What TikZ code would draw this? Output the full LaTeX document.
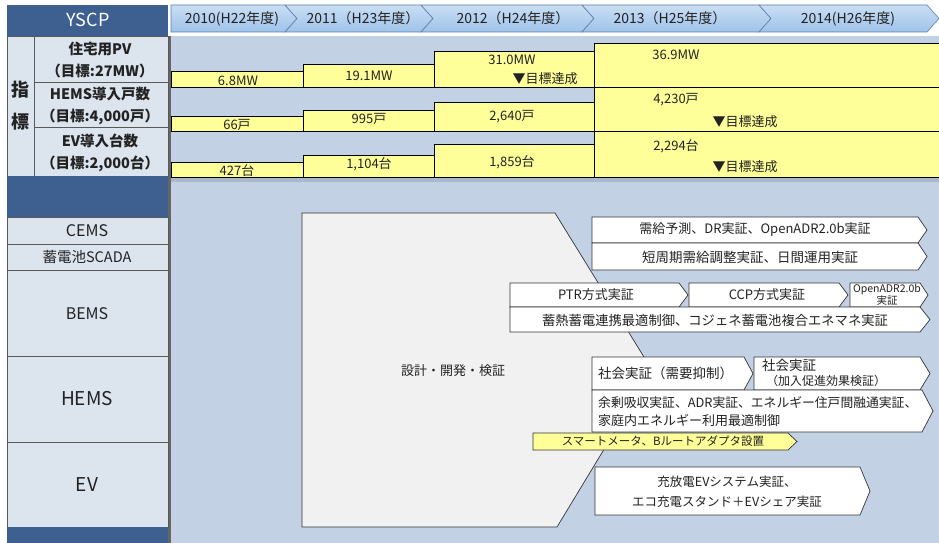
\documentclass[tikz,border=0pt]{standalone}
\usepackage{fontspec}
\setmainfont{Noto Sans CJK JP}
\definecolor{dkblue}{HTML}{3D6090}
\definecolor{cellbg}{HTML}{DCE4EE}
\definecolor{chartbg}{HTML}{C3D1E5}
\definecolor{bary}{HTML}{FFFF99}
\definecolor{hdr}{HTML}{9EC3EA}
\definecolor{hdrline}{HTML}{5F7FA8}
\definecolor{shapebg}{HTML}{F1F1F1}
\definecolor{txt}{HTML}{222222}
\newcommand\abx[6]{% x1, y1, body end, tip, y2, style
  \draw[#6] (#1,#2) -- (#3,#2) -- (#4,{(#2+#5)/2}) -- (#3,#5) -- (#1,#5) -- cycle;}
\begin{document}
\begin{tikzpicture}[x=1pt,y=-1pt,
  cell/.style={draw=black!65, fill=cellbg, line width=0.7pt},
  bar/.style={draw=black, fill=bary, line width=0.8pt},
  abox/.style={draw=black!80, fill=white, line width=0.7pt},
  ybox/.style={draw=black!80, fill=bary, line width=0.7pt},
  hdrbox/.style={draw=hdrline, line width=0.6pt, top color=hdr!55!white, bottom color=hdr},
  lbl/.style={inner sep=0pt, font=\fontsize{13}{15}\selectfont, text=txt},
  blbl/.style={inner sep=0pt, font=\fontsize{13}{15}\selectfont, text=txt},
  slbl/.style={inner sep=0pt, font=\fontsize{11.5}{13.5}\selectfont, text=txt},
  hlbl/.style={inner sep=0pt, font=\fontsize{14}{16}\selectfont, text=txt},
  plbl/.style={inner sep=0pt, font=\bfseries\fontsize{14.5}{16}\selectfont, text=txt},
  rlbl/.style={inner sep=0pt, font=\fontsize{16}{18}\selectfont, text=txt},
]
\useasboundingbox (0,0) rectangle (939,543);
\fill[white] (0,0) rectangle (939,543);
\fill[chartbg] (170,36) rectangle (939,543);
\fill[chartbg!88!black] (171,177) rectangle (939,182);

% header
\fill[dkblue] (7,5) rectangle (168,36);
\node[text=white, inner sep=0pt, font=\fontsize{18}{20}\selectfont] (yscp) at (88,20) {YSCP};
\draw[hdrbox] (171,5) -- (285,5) -- (297,18.5) -- (285,32) -- (171,32) -- cycle;
\draw[hdrbox] (285,5) -- (421,5) -- (433,18.5) -- (421,32) -- (285,32) -- (297,18.5) -- cycle;
\draw[hdrbox] (421,5) -- (582,5) -- (594,18.5) -- (582,32) -- (421,32) -- (433,18.5) -- cycle;
\draw[hdrbox] (582,5) -- (759,5) -- (771,18.5) -- (759,32) -- (582,32) -- (594,18.5) -- cycle;
\draw[hdrbox] (759,5) -- (927,5) -- (939,18.5) -- (927,32) -- (759,32) -- (771,18.5) -- cycle;
\node[hlbl] (y10) at (232,18.5) {2010(H22年度)};
\node[hlbl] (y11) at (363,18.5) {2011（H23年度）};
\node[hlbl] (y12) at (513,18.5) {2012（H24年度）};
\node[hlbl] (y13) at (670,18.5) {2013（H25年度）};
\node[hlbl] (y14) at (848,18.5) {2014(H26年度)};

% left panel (indicators)
\fill[black!60] (167,36) rectangle (171,543);
\draw[cell] (7,36) rectangle (34,176);
\node[plbl, font=\bfseries\fontsize{18}{20}\selectfont] (shi) at (20.5,90) {指};
\node[plbl, font=\bfseries\fontsize{18}{20}\selectfont] (hyo) at (20.5,122) {標};
\draw[cell] (34,36) rectangle (168,82);
\draw[cell] (34,82) rectangle (168,127);
\draw[cell] (34,127) rectangle (168,176);
\node[plbl] (pv1) at (100,49) {住宅用PV};
\node[plbl] (pv2) at (100,71) {（目標:27MW）};
\node[plbl] (hm1) at (100,94) {HEMS導入戸数};
\node[plbl] (hm2) at (100,117) {（目標:4,000戸）};
\node[plbl] (ev1) at (100,141) {EV導入台数};
\node[plbl] (ev2) at (100,164) {（目標:2,000台）};

% left panel (systems)
\fill[dkblue] (7,176) rectangle (168,217);
\draw[cell] (7,217) rectangle (168,244);
\draw[cell] (7,244) rectangle (168,270);
\draw[cell] (7,270) rectangle (168,356);
\draw[cell] (7,356) rectangle (168,442);
\draw[cell] (7,442) rectangle (168,527);
\fill[dkblue] (7,527) rectangle (168,543);
\node[rlbl] (cems) at (87,231) {CEMS};
\node[rlbl, font=\fontsize{14.5}{16}\selectfont] (scada) at (87,257) {蓄電池SCADA};
\node[rlbl] (bems) at (87,314) {BEMS};
\node[rlbl, font=\fontsize{19}{21}\selectfont] (hems) at (87,399) {HEMS};
\node[rlbl, font=\fontsize{19}{21}\selectfont] (ev) at (87,485) {EV};

% bars: PV
\draw[bar] (171,71) rectangle (303,87);
\draw[bar] (303,64) rectangle (434,87);
\draw[bar] (434,51) rectangle (594,87);
\draw[bar] (594,43) rectangle (939,87);
\node[blbl] (b1) at (238,81) {6.8MW};
\node[blbl] (b2) at (369,76) {19.1MW};
\node[blbl] (b3) at (512,60) {31.0MW};
\node[lbl] (b4) at (545,79) {▼目標達成};
\node[blbl] (b5) at (676,55) {36.9MW};
% bars: HEMS
\draw[bar] (171,116) rectangle (303,131);
\draw[bar] (303,110) rectangle (434,131);
\draw[bar] (434,102) rectangle (594,131);
\draw[bar] (594,87) rectangle (939,131);
\node[blbl] (c1) at (237,125) {66戸};
\node[blbl] (c2) at (369,119) {995戸};
\node[blbl] (c3) at (512,117) {2,640戸};
\node[blbl] (c4) at (676,100) {4,230戸};
\node[lbl] (c5) at (745,122) {▼目標達成};
% bars: EV
\draw[bar] (171,162) rectangle (303,177);
\draw[bar] (303,155) rectangle (434,177);
\draw[bar] (434,144) rectangle (594,177);
\draw[bar] (594,131) rectangle (939,177);
\node[blbl] (d1) at (237,171) {427台};
\node[blbl] (d2) at (369,164) {1,104台};
\node[blbl] (d3) at (512,162) {1,859台};
\node[blbl] (d4) at (676,146) {2,294台};
\node[lbl] (d5) at (745,167) {▼目標達成};

% big design shape
\draw[draw=black!80, fill=shapebg, line width=0.7pt] (302,213) -- (555,213) -- (652,370) -- (557,527) -- (302,527) -- cycle;
\node[lbl] (dev) at (453,371) {設計・開発・検証};

% CEMS / SCADA
\abx{592}{217}{918}{927}{243}{abox}
\abx{592}{243}{918}{927}{270}{abox}
\node[lbl] (e1) at (755,230) {需給予測、DR実証、OpenADR2.0b実証};
\node[lbl, font=\fontsize{13.5}{15}\selectfont] (e2) at (750,257) {短周期需給調整実証、日間運用実証};

% BEMS
\abx{510}{283}{679}{688}{307}{abox}
\abx{689}{283}{839}{848}{307}{abox}
\abx{850}{283}{920}{928}{307}{abox}
\abx{510}{307}{920}{930}{332}{abox}
\node[lbl] (f1) at (596,295) {PTR方式実証};
\node[lbl] (f2) at (767,295) {CCP方式実証};
\node[inner sep=0pt, font=\fontsize{10.5}{10.5}\selectfont, text=txt, align=center] (f3) at (887,295) {OpenADR2.0b\\実証};
\node[lbl, font=\fontsize{13.3}{15}\selectfont] (f4) at (715,320) {蓄熱蓄電連携最適制御、コジェネ蓄電池複合エネマネ実証};

% HEMS
\abx{592}{357}{744}{753}{390}{abox}
\abx{754}{357}{920}{930}{390}{abox}
\abx{592}{390}{922}{933}{432}{abox}
\abx{533}{433}{788}{797}{450}{ybox}
\node[lbl, anchor=west, font=\fontsize{13.5}{15}\selectfont] (g1) at (598,373) {社会実証（需要抑制）};
\node[lbl, anchor=west, font=\fontsize{13.5}{15}\selectfont] (g2) at (762,365) {社会実証};
\node[lbl, anchor=west, font=\fontsize{12}{14}\selectfont] (g3) at (766,381) {（加入促進効果検証）};
\node[lbl, anchor=west, font=\fontsize{12.8}{14}\selectfont] (g4) at (598,403) {余剰吸収実証、ADR実証、エネルギー住戸間融通実証、};
\node[lbl, anchor=west] (g5) at (598,421) {家庭内エネルギー利用最適制御};
\node[slbl] (g6) at (663,441) {スマートメータ、Bルートアダプタ設置};

% EV
\abx{595}{467}{860}{870}{515}{abox}
\node[lbl, font=\fontsize{12.5}{14}\selectfont] (h1) at (727,482) {充放電EVシステム実証、};
\node[lbl, font=\fontsize{12.5}{14}\selectfont] (h2) at (727,502) {エコ充電スタンド＋EVシェア実証};
\end{tikzpicture}
\end{document}
